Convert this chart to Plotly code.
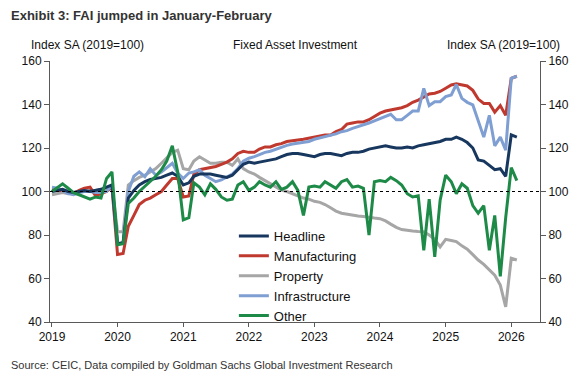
import plotly.graph_objects as go
import pandas as pd

months = pd.date_range("2019-01-01", "2026-02-01", freq="MS")

headline = [100, 100.5, 101, 100, 99.5, 100, 100.5, 100, 100.5, 101, 102, 103,
            76, 76.5, 97, 100.5, 103, 104.5, 105.5, 106, 106.5, 107.5, 108.5, 107,
            103, 104, 107, 108, 108, 108, 107.5, 107, 106.5, 107.5, 110, 112.5,
            113.5, 113, 113.5, 114, 114.5, 115, 116, 117, 117.5, 117.5, 117, 116.5,
            116, 117, 117.5, 117.5, 117, 116.5, 117.5, 118, 118, 118.5, 119.5, 120,
            120.5, 121, 120.5, 120, 120, 120.5, 120, 121, 121.5, 122, 122.5, 123,
            124, 124, 125, 124, 122.5, 120, 114.5, 114, 112, 110, 110.5, 107,
            126, 125]

manufacturing = [101, 100.5, 100.5, 99.5, 99, 100.5, 101.5, 102, 98, 99, 100, 102,
                 71, 71.5, 84, 89, 94, 96, 97, 98.5, 100, 103, 106, 106,
                 97.5, 98, 108, 110, 110.5, 111, 111.5, 112.5, 113.5, 115, 117.5, 118.5,
                 118, 118, 119.5, 120.5, 120.5, 121.5, 122, 123, 123.5, 123.7, 124, 124.5,
                 125, 125.2, 126, 126, 127.5, 128.5, 131, 131.5, 132, 132, 133, 134.5,
                 136, 137, 137.5, 137.8, 138.5, 139.5, 141, 142, 143.3, 144.8, 145.2, 146,
                 147.5, 149, 149.5, 149, 148.5, 146.5, 142.5, 140.5, 140.5, 136.5, 139.5, 135,
                 152, 153]

property_ = [98.5, 99, 99.5, 99, 99.5, 100, 100, 100.5, 100.5, 101, 101.5, 102.5,
             81.5, 81.5, 103, 105, 106.5, 107.5, 109, 110.5, 113, 115.5, 118, 119,
             110.5, 110, 114, 116, 114.5, 113, 113, 113.5, 113.5, 112, 115, 110.5,
             109, 108, 106.5, 105, 103.5, 102, 100.7, 100, 99, 98, 97, 96.5,
             95.5, 95, 94, 92.5, 91, 90, 89.5, 89, 88.7, 88.5, 88, 87.8,
             87.5, 86.5, 85, 83.5, 82.5, 82, 81.8, 81.6, 81.5, 80, 78, 74.5,
             78, 77.5, 77, 75, 73.5, 71, 68.5, 66.5, 64, 61.5, 57, 47,
             69.3, 68.5]

infrastructure = [102, 101.5, 100.5, 99, 98.5, 99.5, 100, 100, 99.5, 99.5, 100, 103,
                  76, 76.5, 100, 107, 109, 106.8, 110.5, 107.5, 109, 111, 113, 108.5,
                  106, 108.5, 109, 110, 107.5, 106, 104.5, 105.3, 106.5, 108, 110.5, 114,
                  115.3, 116, 117, 118, 118.5, 119.5, 120.5, 121.2, 121.8, 122.2, 122.5, 123,
                  124, 124.6, 125.2, 125.8, 126.5, 127.5, 128, 129, 129.8, 130.5, 131.5, 132.5,
                  133.5, 134.5, 135.5, 133, 133, 135, 137, 137, 147.4, 139.5, 141.3, 141.3,
                  143.6, 144.4, 149.2, 142.8, 141, 139.8, 132, 125, 135, 121, 125, 119,
                  152, 153]

other = [100, 102, 103.5, 101.5, 99.5, 98.5, 97.5, 96.5, 97.5, 97, 106, 109,
         75.5, 76, 94.5, 97, 100, 102.5, 104.5, 107, 110, 114, 121, 109,
         87, 88, 104, 102, 98.5, 103.5, 101, 97.5, 96, 96.5, 103, 104.5,
         100.5, 102, 104.5, 103, 102, 104.5, 101, 102, 104.5, 100.5, 89, 102,
         102.5, 102, 104.5, 103, 101.5, 104.5, 105.5, 102, 102.5, 101.5, 80, 104.5,
         105, 104.5, 106.5, 105, 103, 99, 97.5, 98, 73, 96.5, 70, 96,
         107.5, 104.5, 99, 103.5, 101.5, 93.5, 90, 93.5, 73, 89, 61, 88,
         111, 105]

series_names = ["Headline", "Manufacturing", "Property", "Infrastructure", "Other"]
series_colors = {"Headline": "#17375e", "Manufacturing": "#c0392f", "Property": "#a6a6a6",
                 "Infrastructure": "#7f9fd3", "Other": "#1e8a48"}
series_data = {"Headline": headline, "Manufacturing": manufacturing, "Property": property_,
               "Infrastructure": infrastructure, "Other": other}
draw_order = ["Property", "Manufacturing", "Infrastructure", "Headline", "Other"]

y_ticks = [40, 60, 80, 100, 120, 140, 160]
x_tick_labels = ["2019", "2020", "2021", "2022", "2023", "2024", "2025", "2026"]

FONT = "Arial, 'Liberation Sans', sans-serif"

# page coordinates (the page body adds an 8px offset to the figure)
OFF = 8
PAGE_W, PAGE_H = 581, 385
W, H = PAGE_W - OFF, PAGE_H - OFF
P_LEFT, P_RIGHT, P_TOP, P_BOTTOM = 50, 543, 61, 322   # plot area in page pixels
L = P_LEFT - OFF
T = P_TOP - OFF
R = W - (P_RIGHT - OFF)
B = H - (P_BOTTOM - OFF)
PW, PH = P_RIGHT - P_LEFT, P_BOTTOM - P_TOP

def px(xp):
    return (xp - P_LEFT) / PW

def py(yp):
    return (P_BOTTOM - yp) / PH

fig = go.Figure()
for name in draw_order:
    fig.add_trace(go.Scatter(
        x=months, y=series_data[name], name=name, mode="lines",
        line=dict(color=series_colors[name], width=3),
        legendrank=series_names.index(name) + 1,
    ))
# carrier for the right-hand axis
fig.add_trace(go.Scatter(x=[], y=[], yaxis="y2", showlegend=False, hoverinfo="skip"))

axis_col = "#595959"
fig.update_layout(
    width=W, height=H,
    margin=dict(l=L, r=R, t=T, b=B),
    paper_bgcolor="white", plot_bgcolor="white",
    font=dict(family=FONT, size=12, color="#111"),
    showlegend=True,
    legend=dict(x=px(235), y=py(221), xanchor="left", yanchor="top",
                bgcolor="rgba(0,0,0,0)", font=dict(size=13, color="#111"),
                tracegroupgap=0),
    xaxis=dict(type="date", range=["2018-12-21", "2026-06-10"],
               tickvals=[f"{y}-01-01" for y in x_tick_labels], ticktext=x_tick_labels,
               showgrid=False, zeroline=False, showline=True, linecolor=axis_col, linewidth=1,
               ticks="outside", ticklen=4, tickcolor=axis_col, tickfont=dict(size=12)),
    yaxis=dict(range=[40, 160], tickvals=y_ticks, showgrid=False, zeroline=False,
               showline=True, linecolor=axis_col, linewidth=1,
               ticks="outside", ticklen=5, tickcolor=axis_col, tickfont=dict(size=12)),
    yaxis2=dict(range=[40, 160], tickvals=y_ticks, overlaying="y", side="right",
                showgrid=False, zeroline=False, showline=True, linecolor=axis_col, linewidth=1,
                ticks="outside", ticklen=5, tickcolor=axis_col, tickfont=dict(size=12)),
    shapes=[dict(type="line", xref="paper", yref="y", x0=0, x1=1, y0=100, y1=100,
                 line=dict(color="#000", width=1, dash="3px,3px"), layer="above")],
    annotations=[
        dict(text="<b>Exhibit 3: FAI jumped in January-February</b>", x=px(9), y=py(15),
             xref="paper", yref="paper", xanchor="left", yanchor="middle", showarrow=False,
             font=dict(size=13, color="#333")),
        dict(text="Index SA (2019=100)", x=px(29), y=py(45), xref="paper", yref="paper",
             xanchor="left", yanchor="middle", showarrow=False, font=dict(size=12)),
        dict(text="Fixed Asset Investment", x=px(297), y=py(45), xref="paper", yref="paper",
             xanchor="center", yanchor="middle", showarrow=False, font=dict(size=12)),
        dict(text="Index SA (2019=100)", x=px(565), y=py(45), xref="paper", yref="paper",
             xanchor="right", yanchor="middle", showarrow=False, font=dict(size=12)),
        dict(text="Source: CEIC, Data compiled by Goldman Sachs Global Investment Research",
             x=px(9), y=py(365), xref="paper", yref="paper", xanchor="left", yanchor="middle",
             showarrow=False, font=dict(size=11, color="#333")),
    ],
)

fig.write_html("out.html")
